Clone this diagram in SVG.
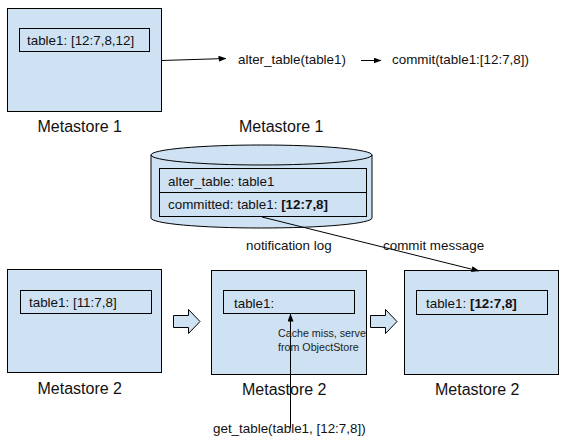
<svg xmlns="http://www.w3.org/2000/svg" width="569" height="441" viewBox="0 0 569 441">
<defs>
<style>
text{font-family:"Liberation Sans",Arial,sans-serif;fill:#111;}
.t{font-size:13.4px;}
.lbl{font-size:16px;}
.sm{font-size:10.7px;fill:#222;}
.box{fill:#cfe2f3;stroke:#000;stroke-width:1;}
.ln{fill:none;stroke:#000;stroke-width:1;}
.b{font-weight:bold;}
</style>
<marker id="ah" markerWidth="8" markerHeight="6" refX="7.5" refY="3" orient="auto" markerUnits="userSpaceOnUse">
<path d="M0,0 L8,3 L0,6 z" fill="#000"/>
</marker>
</defs>
<rect width="569" height="441" fill="#fff"/>

<g id="metastore1">
<rect class="box" x="7.5" y="8.5" width="154" height="103"/>
<rect class="box" x="19.5" y="28.5" width="130" height="23"/>
<text class="t" x="27" y="45">table1: [12:7,8,12]</text>
<text class="lbl" x="37.5" y="132">Metastore 1</text>
</g>

<g id="alter">
<text class="t" x="238" y="64">alter_table(table1)</text>
<text class="lbl" x="239" y="132">Metastore 1</text>
</g>

<g id="commit">
<text class="t" x="392" y="64">commit(table1:[12:7,8])</text>
</g>

<g id="notificationlog">
<path class="box" d="M151,155 A110.5,10 0 0 1 372,155 L372,218 A110.5,10 0 0 1 151,218 Z"/>
<path class="ln" d="M151,155 A110.5,10 0 0 0 372,155"/>
<rect class="box" x="159.5" y="168.5" width="207" height="48"/>
<line class="ln" x1="159.5" y1="192.5" x2="366.5" y2="192.5"/>
<text class="t" x="168" y="186">alter_table: table1</text>
<text class="t" x="168" y="209">committed: table1: <tspan class="b">[12:7,8]</tspan></text>
<text class="t" x="246" y="250">notification log</text>
</g>

<g id="metastore2a">
<rect class="box" x="7.5" y="269.5" width="154" height="103"/>
<rect class="box" x="20.5" y="290.5" width="131" height="23"/>
<text class="t" x="29" y="307">table1: [11:7,8]</text>
<text class="lbl" x="37.5" y="394">Metastore 2</text>
</g>

<g id="metastore2b">
<rect class="box" x="211.5" y="270.5" width="155" height="104"/>
<rect class="box" x="223.5" y="290.5" width="131" height="23"/>
<text class="t" x="234" y="308">table1:</text>
<text class="lbl" x="242" y="395">Metastore 2</text>
</g>

<g id="metastore2c">
<rect class="box" x="404.5" y="270.5" width="154" height="104"/>
<rect class="box" x="416.5" y="290.5" width="131" height="24"/>
<text class="t" x="426" y="308">table1: <tspan class="b">[12:7,8]</tspan></text>
<text class="lbl" x="435" y="395">Metastore 2</text>
</g>

<g id="blockarrows">
<path class="box" d="M173.5,315.5 L188.5,315.5 L188.5,309.5 L200,321.5 L188.5,333.5 L188.5,327.5 L173.5,327.5 Z"/>
<path class="box" d="M370.5,315.5 L385.5,315.5 L385.5,309.5 L397,321.5 L385.5,333.5 L385.5,327.5 L370.5,327.5 Z"/>
</g>

<g id="connectors">
<line class="ln" x1="161.5" y1="60.5" x2="226" y2="58.5" marker-end="url(#ah)"/>
<line class="ln" x1="361" y1="60.5" x2="381" y2="60.5" marker-end="url(#ah)"/>
<line class="ln" x1="262" y1="217" x2="479" y2="271" marker-end="url(#ah)"/>
<line class="ln" x1="290.5" y1="428" x2="290.5" y2="314" marker-end="url(#ah)"/>
<text class="t" x="383" y="250">commit message</text>
<text class="sm" x="278" y="337">Cache miss, serve</text>
<text class="sm" x="278" y="351">from ObjectStore</text>
<text class="t" x="213" y="433">get_table(table1, [12:7,8])</text>
</g>
</svg>
